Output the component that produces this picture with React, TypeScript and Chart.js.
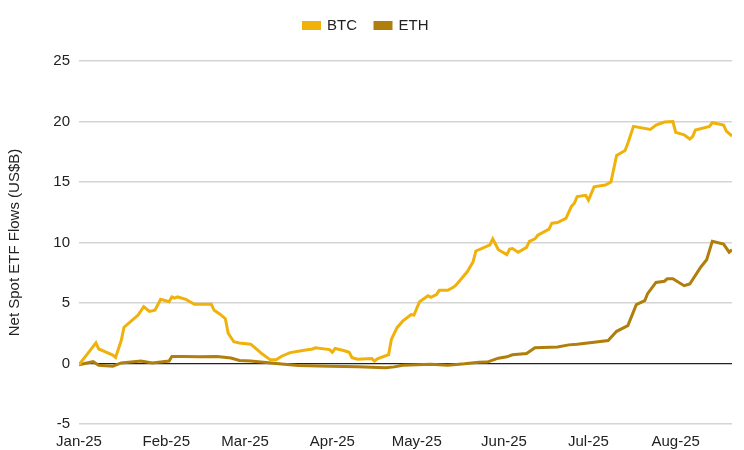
import React, { useEffect, useRef } from 'react';
import { Chart, registerables } from 'chart.js';

Chart.register(...registerables);

// Month tick labels and their positions (days since 1 Jan 2025)
const monthLabels = ['Jan-25', 'Feb-25', 'Mar-25', 'Apr-25', 'May-25', 'Jun-25', 'Jul-25', 'Aug-25'];
const monthStartDays = [0, 31, 59, 90, 120, 151, 181, 212];
const lastDay = 232;

// Cumulative net spot ETF flows (US$B), days since 1 Jan 2025
const btcDays = [0, 3, 6, 7, 9, 12, 13, 15, 16, 18, 21, 23, 25, 27, 29, 32, 33, 34, 35, 38, 41, 43, 47, 48, 50, 52, 53, 55, 57, 61, 63, 65, 68, 70, 72, 75, 80, 83, 84, 89, 90, 91, 94, 96, 97, 99, 104, 105, 106, 110, 111, 113, 115, 118, 119, 121, 124, 125, 127, 128, 131, 133, 134, 138, 140, 141, 143, 146, 147, 149, 152, 153, 154, 156, 159, 160, 162, 163, 167, 168, 170, 173, 175, 176, 177, 180, 181, 183, 187, 189, 191, 194, 195, 197, 203, 205, 208, 211, 212, 215, 217, 218, 219, 224, 225, 229, 230, 232];
const btcValues = [-0.1, 0.8, 1.7, 1.2, 1.0, 0.7, 0.5, 1.9, 3.0, 3.4, 4.0, 4.7, 4.3, 4.4, 5.3, 5.1, 5.5, 5.4, 5.5, 5.3, 4.9, 4.9, 4.9, 4.4, 4.1, 3.7, 2.5, 1.8, 1.7, 1.6, 1.2, 0.8, 0.3, 0.3, 0.6, 0.9, 1.1, 1.2, 1.3, 1.15, 0.93, 1.24, 1.07, 0.93, 0.48, 0.36, 0.41, 0.2, 0.39, 0.74, 2.0, 2.96, 3.5, 4.04, 4.0, 5.1, 5.6, 5.47, 5.7, 6.05, 6.05, 6.3, 6.5, 7.6, 8.4, 9.3, 9.5, 9.8, 10.3, 9.4, 9.0, 9.45, 9.5, 9.2, 9.6, 10.1, 10.3, 10.6, 11.1, 11.6, 11.65, 12.0, 13.0, 13.25, 13.8, 13.9, 13.5, 14.6, 14.75, 15.0, 17.2, 17.6, 18.2, 19.6, 19.35, 19.7, 19.95, 20.0, 19.1, 18.9, 18.55, 18.75, 19.3, 19.6, 19.9, 19.7, 19.2, 18.8];

const ethDays = [0, 5, 7, 12, 15, 22, 26, 32, 33, 37, 43, 49, 54, 57, 61, 71, 78, 89, 99, 109, 112, 115, 125, 131, 137, 142, 145, 149, 152, 154, 159, 162, 170, 174, 177, 183, 188, 191, 195, 198, 201, 202, 205, 208, 209, 211, 215, 217, 221, 223, 225, 229, 231, 232];
const ethValues = [-0.1, 0.15, -0.15, -0.22, 0.05, 0.2, 0.05, 0.2, 0.58, 0.58, 0.55, 0.58, 0.45, 0.25, 0.2, -0.03, -0.16, -0.22, -0.27, -0.36, -0.28, -0.14, -0.06, -0.14, -0.03, 0.1, 0.12, 0.44, 0.55, 0.72, 0.82, 1.3, 1.37, 1.54, 1.6, 1.76, 1.9, 2.66, 3.13, 4.86, 5.19, 5.77, 6.7, 6.8, 7.0, 7.0, 6.43, 6.57, 8.0, 8.57, 10.1, 9.87, 9.2, 9.4];

const BTC_COLOR = '#F0B20A';
const ETH_COLOR = '#B07E0B';
const FONT = "'Liberation Sans', Arial, sans-serif";

export default function App() {
  const canvasRef = useRef<HTMLCanvasElement | null>(null);

  useEffect(() => {
    document.body.style.margin = '0';
    const canvas = canvasRef.current;
    if (!canvas) return;
    const chart = new Chart(canvas, {
      type: 'line',
      data: {
        datasets: [
          {
            label: 'BTC',
            data: btcDays.map((d, i) => ({ x: d, y: btcValues[i] })),
            borderColor: BTC_COLOR,
            backgroundColor: BTC_COLOR,
            borderWidth: 3,
            pointRadius: 0,
            tension: 0,
          },
          {
            label: 'ETH',
            data: ethDays.map((d, i) => ({ x: d, y: ethValues[i] })),
            borderColor: ETH_COLOR,
            backgroundColor: ETH_COLOR,
            borderWidth: 3,
            pointRadius: 0,
            tension: 0,
          },
        ],
      },
      options: {
        animation: false,
        responsive: false,
        maintainAspectRatio: false,
        layout: { padding: { top: 0, right: 12, left: 0, bottom: 0 } },
        plugins: {
          legend: {
            position: 'top',
            labels: {
              boxWidth: 16,
              boxHeight: 6,
              padding: 18,
              color: '#222',
              font: { family: FONT, size: 15 },
            },
          },
          subtitle: {
            display: true,
            text: '',
            weight: 500,
            font: { family: FONT, size: 12, lineHeight: 1 },
            padding: { top: 0, bottom: 6 },
          },
          tooltip: { enabled: false },
        },
        scales: {
          x: {
            type: 'linear',
            min: 0,
            max: lastDay,
            grid: { display: false, drawTicks: false },
            border: { display: false },
            afterBuildTicks: (scale: any) => {
              scale.ticks = monthStartDays.map((v) => ({ value: v }));
            },
            afterFit: (scale: any) => {
              scale.height = 26;
            },
            ticks: {
              autoSkip: false,
              maxRotation: 0,
              padding: 9,
              color: '#222',
              font: { family: FONT, size: 15 },
              callback: (value: any) => {
                const idx = monthStartDays.indexOf(Number(value));
                return idx >= 0 ? monthLabels[idx] : '';
              },
            },
          },
          y: {
            min: -5,
            max: 25,
            border: { display: false },
            grid: {
              drawTicks: false,
              color: (ctx: any) => (ctx.tick && ctx.tick.value === 0 ? '#222222' : '#d4d4d4'),
              lineWidth: (ctx: any) => (ctx.tick && ctx.tick.value === 0 ? 1.2 : 1.5),
            },
            afterFit: (scale: any) => {
              scale.width = 79;
            },
            ticks: {
              stepSize: 5,
              padding: 9,
              color: '#222',
              font: { family: FONT, size: 15 },
            },
            title: {
              display: true,
              text: 'Net Spot ETF Flows (US$B)',
              color: '#222',
              font: { family: FONT, size: 15 },
              padding: { top: 6, bottom: 4 },
            },
          },
        },
      },
    });
    return () => chart.destroy();
  }, []);

  return (
    <div style={{ width: 744, height: 450, background: '#fff' }}>
      <canvas ref={canvasRef} width={744} height={450} style={{ display: 'block' }} />
    </div>
  );
}
